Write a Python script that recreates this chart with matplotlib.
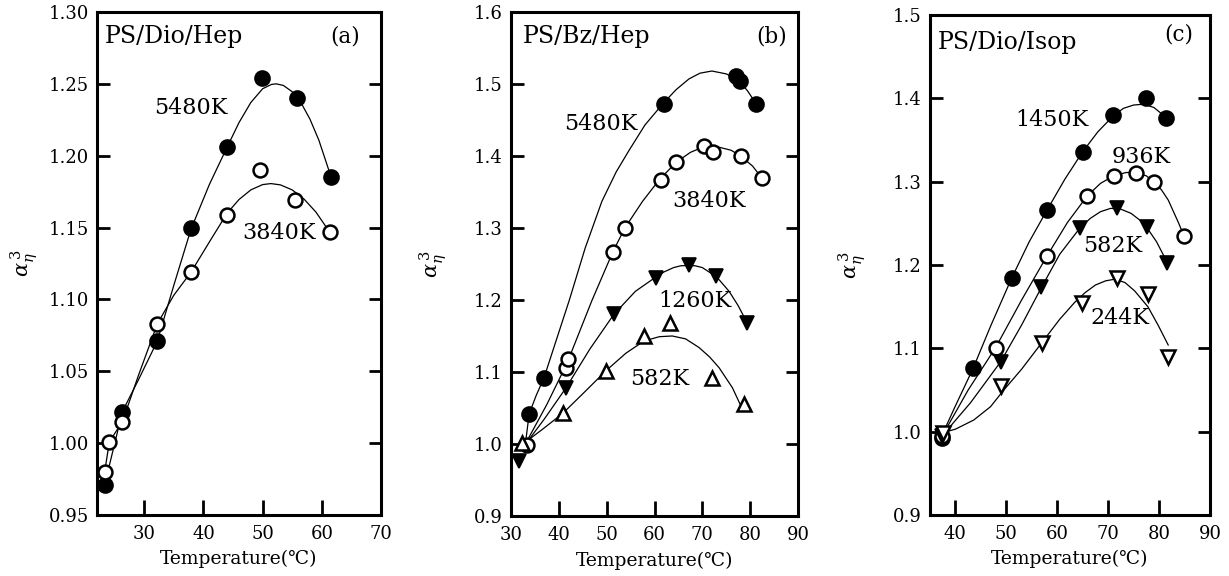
import matplotlib.pyplot as plt

plt.rcParams['font.family'] = ['DejaVu Serif', 'DejaVu Sans']
plt.rcParams['mathtext.fontset'] = 'dejavuserif'

# ---- panel (a): PS/Dio/Hep ----
a_5480_T = [23.3, 26.3, 32.2, 37.9, 44.0, 49.9, 55.8, 61.5]
a_5480_v = [0.971, 1.022, 1.071, 1.150, 1.206, 1.254, 1.240, 1.185]
a_3840_T = [23.3, 24.1, 26.3, 32.2, 37.9, 44.0, 49.6, 55.5, 61.3]
a_3840_v = [0.980, 1.001, 1.015, 1.083, 1.119, 1.159, 1.190, 1.169, 1.147]
# guide curves
a_5480_fitT = [23.3, 26.3, 29, 32.2, 35, 37.9, 41, 44, 46, 48, 50, 51.5, 52.3, 53.5, 55, 56.5, 58, 59.5, 61.5]
a_5480_fit = [0.971, 1.022, 1.044, 1.071, 1.110, 1.149, 1.180, 1.206, 1.223, 1.237, 1.2466, 1.2496, 1.250,
              1.2489, 1.2445, 1.2367, 1.2254, 1.2108, 1.186]
a_3840_fitT = [23.3, 24.1, 26.3, 29, 32.2, 35, 37.9, 41, 44, 46, 48, 50, 51.4, 53, 55, 57, 59, 61.3]
a_3840_fit = [0.980, 1.001, 1.015, 1.047, 1.083, 1.103, 1.119, 1.140, 1.160, 1.1695, 1.1762, 1.1799, 1.1806,
              1.1797, 1.1762, 1.1698, 1.1608, 1.147]

# ---- panel (b): PS/Bz/Hep ----
b_5480_T = [33.8, 36.9, 62.0, 77.1, 77.9, 81.3]
b_5480_v = [1.042, 1.092, 1.472, 1.511, 1.504, 1.472]
b_3840_T = [33.3, 41.5, 41.9, 51.3, 53.8, 61.4, 64.5, 70.4, 72.3, 78.1, 82.5]
b_3840_v = [0.998, 1.106, 1.118, 1.267, 1.300, 1.366, 1.391, 1.414, 1.405, 1.400, 1.369]
b_1260_T = [31.7, 41.5, 51.5, 60.3, 67.2, 72.9, 79.4]
b_1260_v = [0.976, 1.078, 1.180, 1.231, 1.248, 1.234, 1.168]
b_582_T = [32.3, 40.9, 49.9, 57.8, 63.3, 72.1, 78.7]
b_582_v = [1.001, 1.043, 1.102, 1.150, 1.168, 1.092, 1.056]
b_5480_fitT = [33.0, 33.8, 35.3, 36.9, 39.5, 42.2, 45.5, 49.0, 52, 54.7, 58, 61.8, 64.5, 67.2, 69.5, 72.0,
               75.0, 77.5, 79.5, 81.3]
b_5480_fit = [1.0, 1.042, 1.068, 1.092, 1.145, 1.200, 1.272, 1.337, 1.378, 1.408, 1.443, 1.473, 1.492, 1.507,
              1.515, 1.518, 1.514, 1.506, 1.490, 1.472]
b_3840_fitT = [33.0, 37.5, 41.7, 46.9, 51.3, 53.8, 57.5, 61.0, 64.5, 67.5, 70.0, 73.0, 76.0, 78.0, 80.5, 82.5]
b_3840_fit = [1.0, 1.055, 1.112, 1.199, 1.267, 1.300, 1.337, 1.367, 1.391, 1.405, 1.412, 1.413, 1.408, 1.400,
              1.386, 1.369]
b_1260_fitT = [32.5, 37, 41.5, 46.5, 51.5, 56, 60.3, 62, 64, 65.5, 67.2, 68.5, 70, 73, 75.6, 77.5, 79.4]
b_1260_fit = [0.995, 1.035, 1.078, 1.132, 1.180, 1.212, 1.232, 1.239, 1.245, 1.2475, 1.248, 1.2475, 1.245,
              1.232, 1.212, 1.192, 1.168]
b_582_fitT = [32.5, 36.5, 40.9, 45.5, 49.9, 54, 57.8, 61, 63.7, 66.5, 69.3, 71.5, 73.5, 76.3, 78.4]
b_582_fit = [1.0, 1.020, 1.043, 1.073, 1.102, 1.126, 1.143, 1.149, 1.150, 1.146, 1.134, 1.121, 1.106, 1.078, 1.048]

# ---- panel (c): PS/Dio/Isop ----
c_1450_T = [37.4, 43.4, 51.1, 58.0, 65.0, 70.9, 77.4, 81.4]
c_1450_v = [0.992, 1.076, 1.185, 1.266, 1.336, 1.380, 1.400, 1.377]
c_936_T = [37.4, 47.9, 58.0, 65.9, 71.1, 75.4, 79.0, 84.9]
c_936_v = [0.995, 1.101, 1.211, 1.283, 1.307, 1.311, 1.300, 1.235]
c_582_T = [37.4, 48.9, 56.8, 64.4, 71.7, 77.6, 81.6]
c_582_v = [0.995, 1.084, 1.174, 1.244, 1.268, 1.246, 1.203]
c_244_T = [37.6, 48.9, 57.0, 64.8, 71.7, 77.8, 81.8]
c_244_v = [0.998, 1.055, 1.107, 1.155, 1.184, 1.165, 1.090]
c_1450_fitT = [37.3, 40, 43.4, 47, 51.1, 54.5, 58.0, 61.5, 65.0, 68, 71.0, 73, 75, 77.0, 79, 81.4]
c_1450_fit = [0.995, 1.031, 1.075, 1.128, 1.185, 1.228, 1.266, 1.303, 1.336, 1.360, 1.379, 1.388, 1.392,
              1.393, 1.389, 1.377]
c_936_fitT = [37.4, 42.5, 47.9, 53, 58, 62, 65.9, 68.5, 71.1, 73.5, 75.4, 77.5, 79.0, 80.5, 81.8, 83.8, 84.9]
c_936_fit = [0.995, 1.050, 1.101, 1.158, 1.211, 1.251, 1.283, 1.298, 1.307, 1.311, 1.311, 1.307, 1.300, 1.290,
             1.278, 1.251, 1.235]
c_582_fitT = [37.4, 43, 48.9, 53, 56.8, 60.5, 64.4, 66.5, 68.5, 70.5, 72.5, 74.5, 76.2, 77.6, 79.5, 80.6, 81.6]
c_582_fit = [0.995, 1.035, 1.084, 1.128, 1.172, 1.213, 1.244, 1.256, 1.264, 1.268, 1.267, 1.262, 1.254, 1.245,
             1.228, 1.215, 1.203]
c_244_fitT = [37.6, 40, 43.6, 46.9, 49.5, 53, 57, 60.5, 63.4, 65.5, 67.5, 69.5, 71.3, 73.3, 75.2, 77.8, 79.8, 81.8]
c_244_fit = [0.999, 1.003, 1.014, 1.030, 1.050, 1.075, 1.107, 1.135, 1.155, 1.167, 1.176, 1.181, 1.183, 1.179,
             1.169, 1.150, 1.128, 1.104]

FILLED_O = dict(marker='o', ms=10.5, mfc='black', mec='black', mew=1.5)
OPEN_O = dict(marker='o', ms=10, mfc='white', mec='black', mew=1.8)
FILLED_V = dict(marker='v', ms=10, mfc='black', mec='black', mew=1.2)
OPEN_UP = dict(marker='^', ms=9.5, mfc='white', mec='black', mew=1.8)
OPEN_V = dict(marker='v', ms=9.5, mfc='white', mec='black', mew=1.8)


def style_axes(ax, xlim, ylim, xticks, yticks, yfmt, ylab_x):
    ax.set_xlim(xlim)
    ax.set_ylim(ylim)
    ax.set_xticks(xticks)
    ax.set_yticks(yticks)
    ax.set_yticklabels([yfmt % v for v in yticks])
    for s in ax.spines.values():
        s.set_linewidth(2.2)
    ax.tick_params(axis='y', direction='in', length=9, width=2,
                   left=True, right=True, labelsize=13, pad=6)
    ax.tick_params(axis='x', direction='in', length=11, width=2,
                   top=False, labelsize=13, pad=7)
    ax.set_xlabel('Temperature(℃)', fontsize=13.5)
    ax.xaxis.set_label_coords(0.5, -0.07)
    ax.set_ylabel(r'$\alpha_{\eta}^{\,3}$', fontsize=15)
    ax.yaxis.set_label_coords(ylab_x, 0.5)


def series(ax, fx, fy, x, y, style):
    ax.plot(fx, fy, color='black', lw=0.9, zorder=2)
    ax.plot(x, y, ls='none', zorder=3, **style)


fig = plt.figure(figsize=(12.29, 5.76), dpi=100)

# (a)
ax = fig.add_axes([0.0789, 0.1059, 0.2311, 0.8733])
series(ax, a_5480_fitT, a_5480_fit, a_5480_T, a_5480_v, FILLED_O)
series(ax, a_3840_fitT, a_3840_fit, a_3840_T, a_3840_v, OPEN_O)
style_axes(ax, (22, 70), (0.95, 1.30), [30, 40, 50, 60, 70],
           [0.95, 1.00, 1.05, 1.10, 1.15, 1.20, 1.25, 1.30], '%.2f', -0.2)
ax.text(0.028, 0.952, 'PS/Dio/Hep', transform=ax.transAxes, fontsize=17, va='center')
ax.text(0.926, 0.952, '(a)', transform=ax.transAxes, fontsize=15.5, va='center', ha='right')
ax.text(37.9, 1.233, '5480K', fontsize=16, ha='center', va='center')
ax.text(52.8, 1.146, '3840K', fontsize=16, ha='center', va='center')

# (b)
ax = fig.add_axes([0.4158, 0.1042, 0.2335, 0.875])
series(ax, b_5480_fitT, b_5480_fit, b_5480_T, b_5480_v, FILLED_O)
series(ax, b_3840_fitT, b_3840_fit, b_3840_T, b_3840_v, OPEN_O)
series(ax, b_1260_fitT, b_1260_fit, b_1260_T, b_1260_v, FILLED_V)
series(ax, b_582_fitT, b_582_fit, b_582_T, b_582_v, OPEN_UP)
style_axes(ax, (30, 90), (0.9, 1.6), [30, 40, 50, 60, 70, 80, 90],
           [0.9, 1.0, 1.1, 1.2, 1.3, 1.4, 1.5, 1.6], '%.1f', -0.215)
ax.text(0.042, 0.952, 'PS/Bz/Hep', transform=ax.transAxes, fontsize=17, va='center')
ax.text(0.962, 0.952, '(b)', transform=ax.transAxes, fontsize=15.5, va='center', ha='right')
ax.text(48.8, 1.4445, '5480K', fontsize=16, ha='center', va='center')
ax.text(71.4, 1.3375, '3840K', fontsize=16, ha='center', va='center')
ax.text(68.5, 1.199, '1260K', fontsize=16, ha='center', va='center')
ax.text(61.0, 1.090, '582K', fontsize=16, ha='center', va='center')

# (c)
ax = fig.add_axes([0.7567, 0.1059, 0.2278, 0.868])
series(ax, c_1450_fitT, c_1450_fit, c_1450_T, c_1450_v, FILLED_O)
series(ax, c_936_fitT, c_936_fit, c_936_T, c_936_v, OPEN_O)
series(ax, c_582_fitT, c_582_fit, c_582_T, c_582_v, FILLED_V)
series(ax, c_244_fitT, c_244_fit, c_244_T, c_244_v, OPEN_V)
style_axes(ax, (35, 90), (0.9, 1.5), [40, 50, 60, 70, 80, 90],
           [0.9, 1.0, 1.1, 1.2, 1.3, 1.4, 1.5], '%.1f', -0.22)
ax.text(0.029, 0.946, 'PS/Dio/Isop', transform=ax.transAxes, fontsize=17, va='center')
ax.text(0.939, 0.962, '(c)', transform=ax.transAxes, fontsize=15.5, va='center', ha='right')
ax.text(59.0, 1.3745, '1450K', fontsize=16, ha='center', va='center')
ax.text(76.4, 1.330, '936K', fontsize=16, ha='center', va='center')
ax.text(70.9, 1.223, '582K', fontsize=16, ha='center', va='center')
ax.text(72.3, 1.137, '244K', fontsize=16, ha='center', va='center')

fig.savefig('out.png', dpi=100)
